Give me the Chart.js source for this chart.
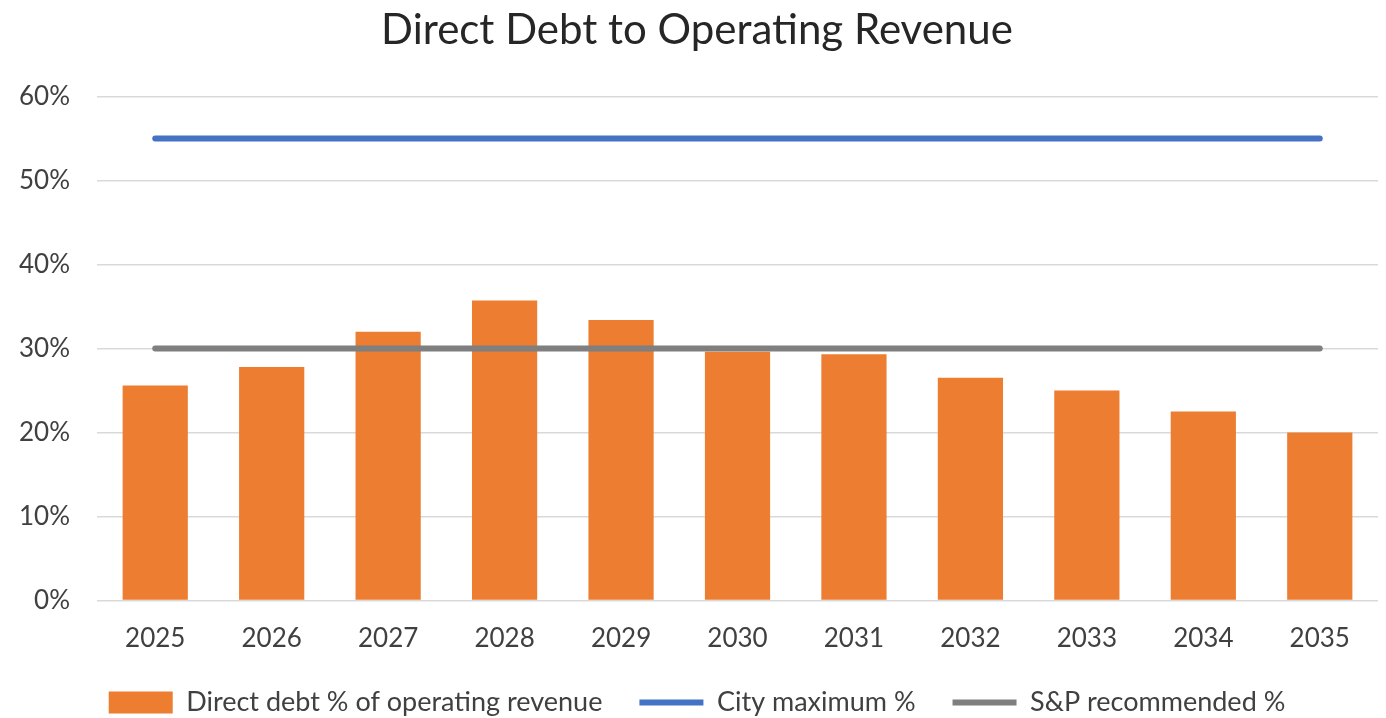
<!DOCTYPE html>
<html>
<head>
<meta charset="utf-8">
<title>Direct Debt to Operating Revenue</title>
<script src="https://cdn.jsdelivr.net/npm/chart.js@4.4.1/dist/chart.umd.min.js"></script>
<style>
  html, body { margin: 0; padding: 0; background: #fff; }
  #wrap { position: relative; width: 1386px; height: 718px; }
</style>
</head>
<body>
<div id="wrap"><canvas id="debtChart"></canvas></div>
<script>
// values (percent)
const years = ['2025', '2026', '2027', '2028', '2029', '2030', '2031', '2032', '2033', '2034', '2035'];
const directDebtPct = [25.6, 27.8, 32.0, 35.7, 33.4, 29.6, 29.3, 26.5, 25.0, 22.5, 20.0];
const cityMaxPct = [55, 55, 55, 55, 55, 55, 55, 55, 55, 55, 55];
const spRecommendedPct = [30, 30, 30, 30, 30, 30, 30, 30, 30, 30, 30];

const FONT = 'Lato, "Open Sans", sans-serif';
const textColor = '#404040';

const ctx = document.getElementById('debtChart').getContext('2d');
new Chart(ctx, {
  type: 'bar',
  data: {
    labels: years,
    datasets: [
      {
        type: 'bar',
        label: 'Direct debt % of operating revenue',
        data: directDebtPct,
        backgroundColor: '#ED7D31',
        borderWidth: 0,
        barPercentage: 0.56,
        categoryPercentage: 1.0,
        pointStyle: 'rect',
        order: 2
      },
      {
        type: 'line',
        label: 'City maximum %',
        data: cityMaxPct,
        borderColor: '#4472C4',
        backgroundColor: '#4472C4',
        borderWidth: 6,
        borderCapStyle: 'round',
        pointRadius: 0,
        pointHoverRadius: 0,
        pointStyle: 'line',
        fill: false,
        order: 1
      },
      {
        type: 'line',
        label: 'S&P recommended %',
        data: spRecommendedPct,
        borderColor: '#7F7F7F',
        backgroundColor: '#7F7F7F',
        borderWidth: 6,
        borderCapStyle: 'round',
        pointRadius: 0,
        pointHoverRadius: 0,
        pointStyle: 'line',
        fill: false,
        order: 1
      }
    ]
  },
  options: {
    responsive: true,
    maintainAspectRatio: false,
    animation: false,
    layout: {
      padding: { left: 16, right: 8, top: 0, bottom: -8 }
    },
    scales: {
      x: {
        grid: { display: false },
        border: { display: false },
        ticks: {
          color: textColor,
          padding: 16,
          font: { family: FONT, size: 26, lineHeight: 1.115 }
        },
        afterFit: function(scale) {
          scale.height = 51.5;
        }
      },
      y: {
        min: 0,
        max: 60,
        grid: {
          color: '#D9D9D9',
          lineWidth: 1.5,
          drawTicks: false
        },
        border: { display: false },
        ticks: {
          stepSize: 10,
          color: textColor,
          padding: 27,
          font: { family: FONT, size: 26 },
          callback: function(value) {
            return value + '%';
          }
        },
        afterFit: function(scale) {
          scale.width = 81;
        }
      }
    },
    plugins: {
      title: {
        display: true,
        text: 'Direct Debt to Operating Revenue',
        color: '#262626',
        font: { family: FONT, size: 42, weight: 'normal', lineHeight: 1.2 },
        padding: { top: 5, bottom: 41 }
      },
      legend: {
        position: 'bottom',
        labels: {
          color: textColor,
          font: { family: FONT, size: 27 },
          usePointStyle: true,
          pointStyleWidth: 64,
          boxHeight: 22,
          padding: 37,
          sort: function(a, b) {
            return a.datasetIndex - b.datasetIndex;
          }
        }
      },
      tooltip: { enabled: false }
    }
  }
});
</script>
</body>
</html>
